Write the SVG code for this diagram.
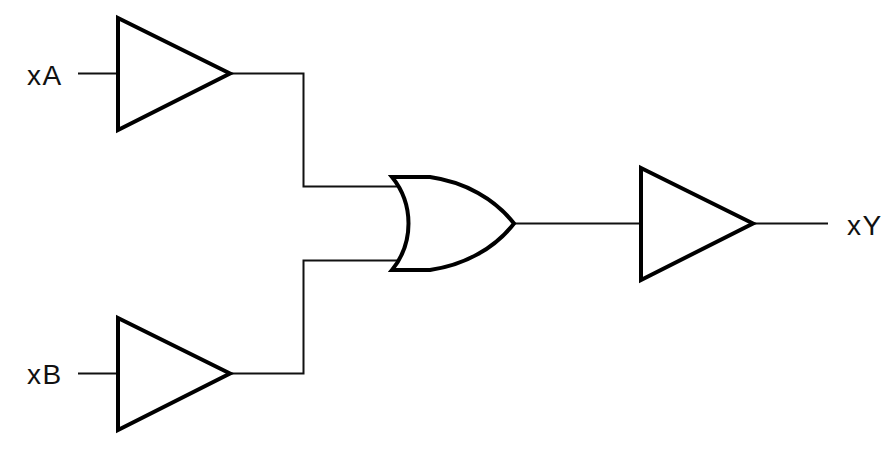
<svg xmlns="http://www.w3.org/2000/svg" width="896" height="456" viewBox="0 0 896 456">
<style>
.g{fill:#fff;stroke:#000;stroke-width:4;stroke-linejoin:miter}
.w{fill:none;stroke:#111;stroke-width:2}
text{font-family:"Liberation Sans",Arial,sans-serif;font-size:28px;fill:#111;letter-spacing:1.500px}
</style>
<rect width="896" height="456" fill="#fff"/>
<g id="connectors">
<path class="w" d="M78 73.500H118"/>
<path class="w" d="M78 373.500H118"/>
<path class="w" d="M230 73.500H303.500V186.500H398"/>
<path class="w" d="M230 373.500H303.500V260.500H398"/>
<path class="w" d="M514 223.500H641"/>
<path class="w" d="M753 223.500H828"/>
</g>
<g id="bufA"><path class="g" d="M118 18L230 73.500L118 130Z"/></g>
<g id="bufB"><path class="g" d="M118 318L230 373.500L118 430Z"/></g>
<g id="or"><path class="g" d="M392 177H430C465 182 495 199 514 223.500C495 248 465 265 430 270H392C414 243 414 204 392 177Z"/></g>
<g id="bufY"><path class="g" d="M641 168L753 223.500L641 280Z"/></g>
<g id="lA"><text x="27" y="85">xA</text></g>
<g id="lB"><text x="27" y="384">xB</text></g>
<g id="lY"><text x="847" y="235">xY</text></g>
</svg>
